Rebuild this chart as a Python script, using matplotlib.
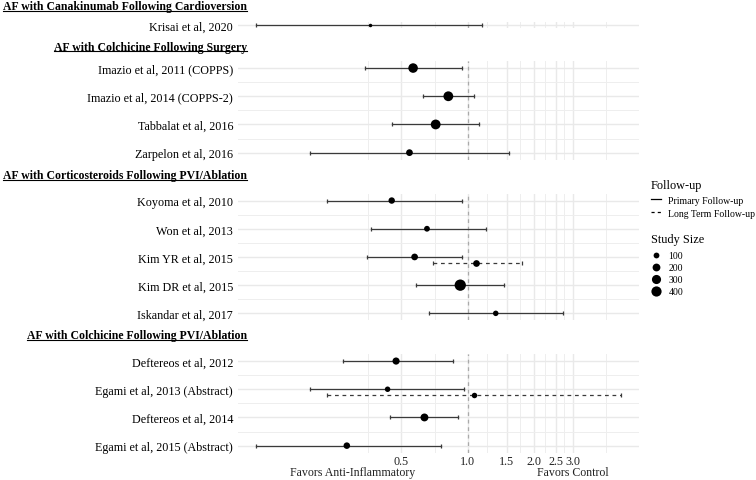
import numpy as np
import matplotlib.pyplot as plt
from matplotlib.lines import Line2D
from matplotlib.ticker import FixedLocator, NullFormatter, FixedFormatter
import matplotlib.transforms as mtrans

plt.rcParams['font.family'] = ['Liberation Serif', 'DejaVu Serif']

# panel headings
groups = ["AF with Canakinumab Following Cardioversion",
          "AF with Colchicine Following Surgery",
          "AF with Corticosteroids Following PVI/Ablation",
          "AF with Colchicine Following PVI/Ablation"]

studies = [["Krisai et al, 2020"],
           ["Imazio et al, 2011 (COPPS)", "Imazio et al, 2014 (COPPS-2)",
            "Tabbalat et al, 2016", "Zarpelon et al, 2016"],
           ["Koyoma et al, 2010", "Won et al, 2013", "Kim YR et al, 2015",
            "Kim DR et al, 2015", "Iskandar et al, 2017"],
           ["Deftereos et al, 2012", "Egami et al, 2013 (Abstract)",
            "Deftereos et al, 2014", "Egami et al, 2015 (Abstract)"]]

# primary follow-up: odds ratio, 95% CI, study size
or_primary = [[0.36], [0.565, 0.816, 0.715, 0.544],
              [0.452, 0.653, 0.574, 0.924, 1.338], [0.473, 0.433, 0.636, 0.283]]
lo_primary = [[0.11], [0.343, 0.624, 0.454, 0.192],
              [0.231, 0.363, 0.351, 0.585, 0.665], [0.273, 0.192, 0.442, 0.11]]
hi_primary = [[1.157], [0.937, 1.069, 1.129, 1.542],
              [0.937, 1.206, 0.937, 1.459, 2.71], [0.855, 0.959, 0.901, 0.755]]
n_primary = [[60], [336, 360, 360, 140], [125, 100, 138, 520, 90], [161, 90, 206, 130]]

# long term follow-up
lt_study = ["Kim YR et al, 2015", "Egami et al, 2013 (Abstract)"]
lt_or = [1.094, 1.072]
lt_lo = [0.695, 0.231]
lt_hi = [1.753, 4.93]
lt_n = [138, 90]

x_breaks = [0.5, 1.0, 1.5, 2.0, 2.5, 3.0]
x_labels = ["0.5", "1.0", "1.5", "2.0", "2.5", "3.0"]
legend_sizes = [100, 200, 300, 400]

W, H = 756, 481
fig = plt.figure(figsize=(W / 100, H / 100), dpi=100)

all_n = sum(n_primary, []) + lt_n
nmin, nmax = min(all_n), max(all_n)


def diam(n):
    # ggplot-like area scale, diameter in px
    return 3.5 + 7.8 * np.sqrt((np.asarray(n, float) - nmin) / (nmax - nmin))


def area(n):
    return (diam(n) * 0.72) ** 2


# x limits: data range with 5% expansion on log scale
all_lo = sum(lo_primary, []) + lt_lo
all_hi = sum(hi_primary, []) + lt_hi
a, b = np.log(min(all_lo)), np.log(max(all_hi))
pad = 0.05 * (b - a)
xlim = (np.exp(a - pad), np.exp(b + pad))

# minor breaks the ggplot way (midpoints, extended one step each side)
lb = np.log(x_breaks)
step = lb[1] - lb[0]
ext = np.concatenate([[lb[0] - step], lb, [lb[-1] + step]])
x_minor = np.exp((ext[:-1] + ext[1:]) / 2)

line_col = '#3a3a3a'
pitch = 28.2
left, right = 238, 639
tops = [22.7, 62, 194.5, 355]
margins = [0.12, 0.25, 0.25, 0.25]
title_base = [10, 50.5, 179, 339.5]

axes = []
for i in range(4):
    n = len(studies[i])
    m = margins[i]
    h = (n - 1 + 2 * m) * pitch
    ax = fig.add_axes([left / W, 1 - (tops[i] + h) / H, (right - left) / W, h / H])
    axes.append(ax)
    ys = np.arange(n)
    ax.set_xscale('log')
    ax.set_xlim(xlim)
    ax.set_ylim(n - 1 + m, -m)
    for s in ax.spines.values():
        s.set_visible(False)
    ax.xaxis.set_major_locator(FixedLocator(x_breaks))
    ax.xaxis.set_minor_locator(FixedLocator(x_minor))
    ax.xaxis.set_minor_formatter(NullFormatter())
    ax.yaxis.set_major_locator(FixedLocator(ys))
    ax.yaxis.set_minor_locator(FixedLocator(ys[:-1] + 0.5))
    ax.set_yticklabels(studies[i], fontsize=8.7)
    if i == 3:
        ax.xaxis.set_major_formatter(FixedFormatter(x_labels))
    else:
        ax.xaxis.set_major_formatter(NullFormatter())
    ax.tick_params(which='both', length=0)
    ax.tick_params(axis='y', pad=3.6)
    ax.tick_params(axis='x', labelsize=8.7, pad=2, labelcolor='#222222')
    ax.grid(which='major', color='#e9e9e9', lw=1.0)
    ax.grid(which='minor', color='#eeeeee', lw=0.7)
    ax.set_axisbelow(True)
    ax.axvline(1.0, color='#aaaaaa', lw=0.9, ls=(0, (3, 3)), zorder=2)

    for y, lo, hi in zip(ys, lo_primary[i], hi_primary[i]):
        ax.plot([lo, hi], [y, y], color=line_col, lw=0.9, marker='|', ms=2.3,
                mew=0.9, zorder=3)
    ax.scatter(or_primary[i], ys, s=area(n_primary[i]), color='black',
               linewidths=0, zorder=4)

    for k, name in enumerate(lt_study):
        if name in studies[i]:
            y = studies[i].index(name) + 0.2
            ax.plot([lt_lo[k], lt_hi[k]], [y, y], color=line_col, lw=0.9,
                    ls=(0, (3, 3)), marker='|', ms=2.3, mew=0.9, zorder=3)
            ax.scatter([lt_or[k]], [y], s=area([lt_n[k]]), color='black',
                       linewidths=0, zorder=4)

# x-axis captions
tr = mtrans.blended_transform_factory(axes[3].transData, fig.transFigure)
axes[3].text(0.3, 1 - 476 / H, "Favors Anti-Inflammatory", transform=tr,
             ha='center', va='baseline', fontsize=8.6, color='#222222')
axes[3].text(3.0, 1 - 476 / H, "Favors Control", transform=tr,
             ha='center', va='baseline', fontsize=8.6, color='#222222')

# underlined bold headings
heads = []
for g, base in zip(groups, title_base):
    t = fig.text(247 / W, 1 - base / H, g, ha='right', va='baseline',
                 fontsize=8.5, fontweight='bold')
    heads.append((t, base))

fig.canvas.draw()
r = fig.canvas.get_renderer()
for t, base in heads:
    bb = t.get_window_extent(r)
    yl = 1 - (base + 1.7) / H
    fig.add_artist(Line2D([bb.x0 / W, bb.x1 / W], [yl, yl], color='black',
                          lw=0.8, transform=fig.transFigure))

# legends (titles set as separate text for spacing control)
fig.text(651 / W, 1 - 188.5 / H, "Follow-up", fontsize=8.8, va='baseline')
fig.text(651 / W, 1 - 243.5 / H, "Study Size", fontsize=8.8, va='baseline')
h1 = [Line2D([], [], color='black', lw=0.9),
      Line2D([], [], color='black', lw=0.9, ls=(0, (2.5, 2.5)))]
fig.legend(h1, ["Primary Follow-up", "Long Term Follow-up"],
           loc='upper left', bbox_to_anchor=(651 / W, 1 - 196.5 / H),
           frameon=False, fontsize=7, handlelength=1.0,
           handletextpad=0.8, labelspacing=0.45,
           borderpad=0, borderaxespad=0)
h2 = [Line2D([], [], ls='', marker='o', color='black', mew=0,
             markersize=float(diam([s])[0]) * 0.72) for s in legend_sizes]
fig.legend(h2, [str(s) for s in legend_sizes],
           loc='upper left', bbox_to_anchor=(651 / W, 1 - 252 / H),
           frameon=False, fontsize=7, handlelength=1.0,
           handletextpad=0.8, labelspacing=0.31,
           borderpad=0, borderaxespad=0)

fig.savefig('out.png', dpi=100, facecolor='white')
